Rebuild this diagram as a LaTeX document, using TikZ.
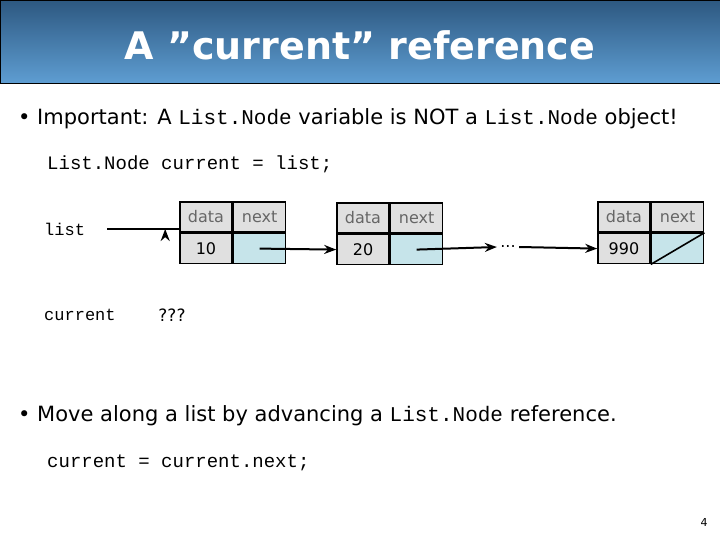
\documentclass[tikz,border=0pt]{standalone}
\usepackage{fontspec}
\setmainfont{DejaVu Sans}
\setmonofont{Liberation Mono}
\usepackage{tikz}
\usetikzlibrary{arrows.meta,positioning}
\definecolor{bartop}{HTML}{2D5880}
\definecolor{barbot}{HTML}{5E9DD2}
\definecolor{cellgray}{HTML}{E0E0E0}
\definecolor{cellblue}{HTML}{C6E4EA}
\begin{document}
\begin{tikzpicture}[
        x=1pt,y=-1pt,
        >=Stealth,
        cell/.style={draw,line width=1.6pt,fill=cellgray,minimum width=52pt,minimum height=30pt,inner sep=0pt,font=\fontsize{16}{16}\selectfont},
        head/.style={cell,text=black!60},
        ptr/.style={cell,fill=cellblue},
        code/.style={font=\ttfamily\fontsize{19}{19}\selectfont,anchor=west,inner sep=0pt},
        body/.style={font=\fontsize{21}{21}\selectfont,anchor=west,inner sep=0pt},
        link/.style={->,line width=2pt}
    ]
        \useasboundingbox (0,0) rectangle (720,540);
        % title bar
        \shade[top color=bartop,bottom color=barbot,draw=black] (0,0) rectangle (720,83);
        \node (title) [text=white,font=\bfseries\fontsize{38}{38}\selectfont] at (360,45) {A "current" reference};

        % text lines
        \node (line1) [body] at (18,119) {\textbullet\ Important: A \texttt{List.Node} variable is NOT a \texttt{List.Node} object!};
        \node (code1) [code] at (47,164) {List.Node current = list;};
        \node (line2) [body] at (18,416) {\textbullet\ Move along a list by advancing a \texttt{List.Node} reference.};
        \node (code2) [code] at (47,463) {current = current.next;};

        % list nodes
        \node (d1) [head] at (206,217) {data};
        \node (n1) [head,right=0pt of d1] {next};
        \node (v1) [cell,below=0pt of d1] {10};
        \node (p1) [ptr,below=0pt of n1] {};
        \node (d2) [head] at (363,218) {data};
        \node (n2) [head,right=0pt of d2] {next};
        \node (v2) [cell,below=0pt of d2] {20};
        \node (p2) [ptr,below=0pt of n2] {};
        \node (d3) [head] at (624,217) {data};
        \node (n3) [head,right=0pt of d3] {next};
        \node (v3) [cell,below=0pt of d3] {990};
        \node (p3) [ptr,below=0pt of n3] {};
        \draw[line width=1.6pt] (p3.south west) -- (p3.north east);

        \node (dots) [font=\fontsize{16}{16}\selectfont] at (508,247) {...};
        \node (list) [code,font=\ttfamily\fontsize{17}{17}\selectfont] at (44,229) {list};
        \node (cur) [code,font=\ttfamily\fontsize{17}{17}\selectfont] at (44,315) {current};
        \node (qq) [font=\fontsize{17}{17}\selectfont] at (172,315) {???};

        % links
        \draw[link] (list.east) ++(22,0) -- (d1.south west |- list.east) ++(-14,0);
        \draw[link] (p1.center) ++(0,0) -- (v2.west);
        \draw[link] (p2.center) -- (dots.west);
        \draw[link] (dots.east) -- (v3.west);
        \node (pg) [font=\fontsize{11}{11}\selectfont] at (704,522) {4};
\end{tikzpicture}
\end{document}
